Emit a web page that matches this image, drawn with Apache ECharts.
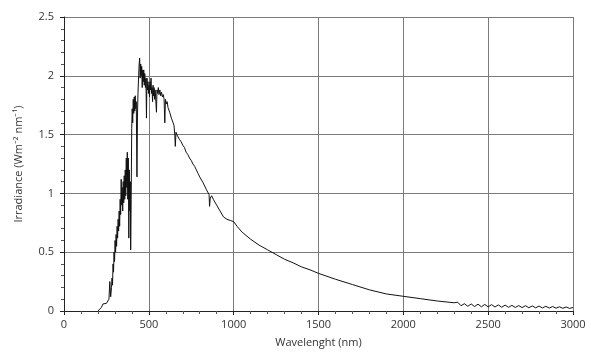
<!DOCTYPE html>
<html lang="en">
<head>
    <meta charset="UTF-8">
    <title>Irradiance</title>
    <script src="https://cdn.jsdelivr.net/npm/echarts@6/dist/echarts.min.js"></script>
    <style>
        html,body{margin:0;padding:0;background:#fff;}
        #chart{width:591px;height:356px;}
    </style>
</head>
<body>
    <div id="chart"></div>
    <script>
        // wavelength (nm) and irradiance (W m-2 nm-1)
        var wavelength = [
            200,210,220,230,240,250,260,265,270,275,
            280,283,286,289,292,295,298,301,304,307,310,313,316,319,322,325,328,331,334,337,
            340,343,346,349,352,355,358,361,364,367,370,373,376,379,382,385,388,391,393,396,
            399,402,405,408,411,414,417,420,423,426,430,433,436,440,443,446,449,452,455,458,
            461,464,467,470,473,476,480,483,486,489,492,495,498,501,504,507,510,513,516,519,
            522,525,528,531,534,537,540,545,548,552,556,560,565,570,575,580,585,590,594,598,
            603,608,613,618,623,628,633,638,643,648,653,656,660,665,670,680,690,700,710,720,
            730,740,750,760,770,780,790,800,820,840,855,858,862,870,880,900,920,940,960,980,
            1000,1020,1050,1100,1150,1200,1250,1300,1350,1400,1450,1500,1600,1700,1800,1900,2000,2100,2200,2300,
            2320,2340,2360,2380,2400,2420,2440,2460,2480,2500,2520,2540,2560,2580,2600,2620,2640,2660,2680,2700,
            2720,2740,2760,2780,2800,2820,2840,2860,2880,2900,2920,2940,2960,2980,3000
        ];
        var irradiance = [
            0,0.01,0.03,0.06,0.06,0.065,0.07,0.1,0.25,0.12,
            0.2,0.28,0.22,0.4,0.33,0.5,0.42,0.6,0.5,0.65,0.55,0.72,0.62,0.78,0.68,0.85,0.72,0.95,0.82,1.12,
            0.9,1.05,0.85,1.1,0.92,1.15,0.95,1.2,0.98,1.3,1.05,1.35,0.95,1.3,0.62,1.2,0.85,1.1,0.52,0.95,
            1.55,1.72,1.6,1.8,1.68,1.82,1.7,1.83,1.72,1.78,1.14,1.65,1.85,2.0,2.1,2.15,1.98,2.1,2.0,2.08,
            1.9,2.05,1.95,2.05,1.92,2.02,1.9,1.98,1.64,1.98,1.88,1.95,1.85,1.92,1.82,1.95,1.88,1.98,1.85,1.9,
            1.78,1.92,1.83,1.9,1.8,1.88,1.82,1.69,1.88,1.85,1.9,1.84,1.88,1.83,1.86,1.82,1.84,1.8,1.6,1.8,
            1.76,1.78,1.73,1.74,1.69,1.7,1.64,1.65,1.6,1.58,1.5,1.4,1.52,1.5,1.49,1.46,1.44,1.41,1.39,1.35,
            1.33,1.3,1.28,1.25,1.23,1.2,1.17,1.14,1.09,1.03,0.99,0.89,0.96,0.98,0.95,0.9,0.85,0.8,0.78,0.77,
            0.76,0.72,0.67,0.61,0.56,0.52,0.48,0.44,0.41,0.375,0.35,0.32,0.27,0.225,0.18,0.145,0.125,0.105,0.085,0.07,
            0.075,0.045,0.062,0.04,0.06,0.038,0.058,0.036,0.056,0.035,0.054,0.034,0.052,0.032,0.05,0.031,0.048,0.03,0.046,0.029,
            0.045,0.028,0.043,0.027,0.042,0.026,0.04,0.025,0.038,0.024,0.036,0.023,0.034,0.022,0.03
        ];
        var xTicks = [0, 500, 1000, 1500, 2000, 2500, 3000];
        var yTicks = [0, 0.5, 1, 1.5, 2, 2.5];

        var points = [];
        for (var i = 0; i < wavelength.length; i++) {
            points.push([wavelength[i], irradiance[i]]);
        }

        var myChart = echarts.init(document.getElementById('chart'));
        var font = 'Open Sans';
        var option = {
            animation: false,
            grid: {left: 64, right: 18, top: 17, bottom: 45},
            xAxis: [{
                type: 'value',
                min: xTicks[0], max: xTicks[xTicks.length - 1], interval: 500,
                name: 'Wavelenght (nm)',
                nameLocation: 'middle', nameGap: 26,
                nameTextStyle: {color: '#333', fontFamily: font, fontSize: 11},
                axisLine: {lineStyle: {color: '#222', width: 1}},
                axisTick: {show: false},
                minorTick: {show: true, splitNumber: 5, length: 3, lineStyle: {color: '#555'}},
                axisLabel: {color: '#333', fontFamily: font, fontSize: 11, margin: 8,
                    formatter: function (v) { return String(v); }},
                splitLine: {lineStyle: {color: '#7a7a7a', width: 1}}
            }, {
                // outside major ticks only
                type: 'value', position: 'bottom',
                min: xTicks[0], max: xTicks[xTicks.length - 1], interval: 500,
                axisLine: {show: false},
                axisTick: {show: true, length: 4, lineStyle: {color: '#222'}},
                axisLabel: {show: false},
                splitLine: {show: false}
            }],
            yAxis: [{
                type: 'value',
                min: yTicks[0], max: yTicks[yTicks.length - 1], interval: 0.5,
                name: 'Irradiance (Wm\u207B\u00B2 nm\u207B\u00B9)',
                nameLocation: 'middle', nameGap: 40,
                nameTextStyle: {color: '#333', fontFamily: font, fontSize: 11},
                axisLine: {show: true, lineStyle: {color: '#222', width: 1}},
                axisTick: {show: false},
                minorTick: {show: true, splitNumber: 5, length: 3, lineStyle: {color: '#555'}},
                axisLabel: {color: '#333', fontFamily: font, fontSize: 11, margin: 10},
                splitLine: {lineStyle: {color: '#7a7a7a', width: 1}}
            }, {
                type: 'value', position: 'left',
                min: yTicks[0], max: yTicks[yTicks.length - 1], interval: 0.5,
                axisLine: {show: false},
                axisTick: {show: true, length: 4, lineStyle: {color: '#222'}},
                axisLabel: {show: false},
                splitLine: {show: false}
            }],
            series: [{
                type: 'line',
                data: points,
                showSymbol: false,
                lineStyle: {color: '#111', width: 1},
                z: 5
            }]
        };
        myChart.setOption(option);
    </script>
</body>
</html>
